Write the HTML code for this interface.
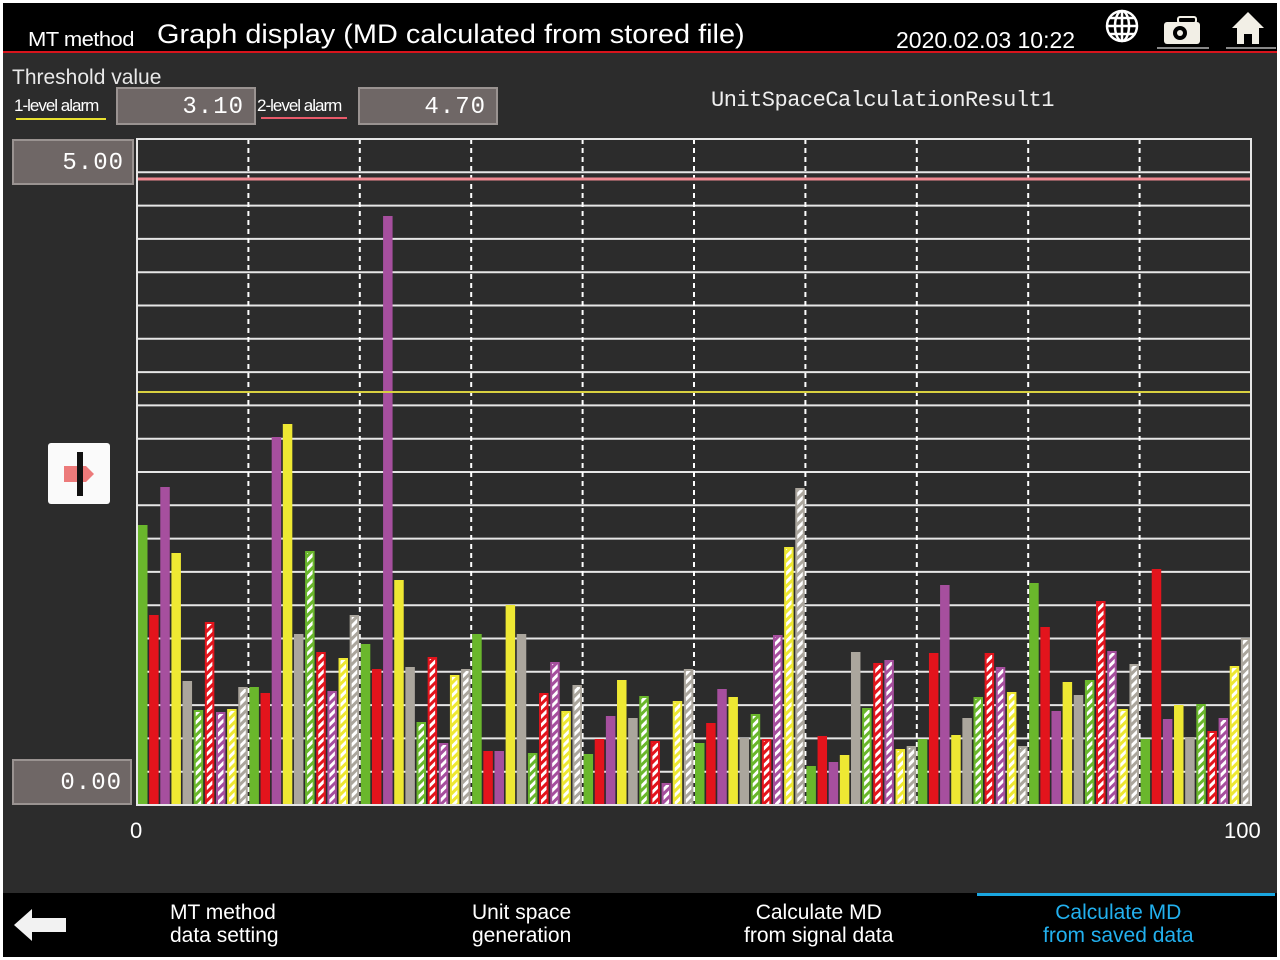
<!DOCTYPE html>
<html><head><meta charset="utf-8"><style>
body{margin:0;width:1280px;height:960px;background:#fff;overflow:hidden;font-family:"Liberation Sans",sans-serif}
#f{position:absolute;left:3px;top:3px;width:1274px;height:954px;background:#2c2c2c}
.a{position:absolute;color:#fff;white-space:nowrap}
.box{position:absolute;background:#6f6766;border:2px solid #9a9391;color:#fff;text-align:right;box-sizing:border-box;font-family:"Liberation Mono",monospace;letter-spacing:1px}
</style></head><body>
<div id="f"></div>
<div style="position:absolute;left:3px;top:3px;width:1274px;height:49px;background:#000"></div>
<div style="position:absolute;left:3px;top:51px;width:1274px;height:2px;background:#d8141c"></div>
<div class="a" style="left:28px;top:29px;font-size:20px;letter-spacing:-0.5px;transform:scaleX(1.1);transform-origin:left">MT method</div>
<div class="a" style="left:157px;top:19px;font-size:27px;transform:scaleX(1.07);transform-origin:left">Graph display (MD calculated from stored file)</div>
<div class="a" style="left:896px;top:27px;font-size:23px">2020.02.03 10:22</div>
<svg style="position:absolute;left:1104px;top:8px" width="36" height="36" viewBox="0 0 36 36" fill="none" stroke="#fff" stroke-width="2.5"><circle cx="18" cy="18" r="15"/><ellipse cx="18" cy="18" rx="7" ry="15"/><line x1="3" y1="18" x2="33" y2="18"/><line x1="5" y1="10" x2="31" y2="10"/><line x1="5" y1="26" x2="31" y2="26"/><line x1="18" y1="3" x2="18" y2="33"/></svg>
<svg style="position:absolute;left:1162px;top:14px" width="40" height="30"><rect x="2" y="8" width="36" height="22" rx="3" fill="#f2efe6"/><rect x="16" y="3" width="18" height="6" rx="2" fill="none" stroke="#f2efe6" stroke-width="2"/><circle cx="18" cy="19" r="7" fill="#000"/><circle cx="18" cy="19" r="3" fill="#f2efe6"/></svg>
<div style="position:absolute;left:1157px;top:47px;width:52px;height:2px;background:#888"></div>
<svg style="position:absolute;left:1230px;top:10px" width="36" height="36"><polygon points="18,2 2,18 7,18 7,34 29,34 29,18 34,18" fill="#f2efe6"/><rect x="14" y="24" width="8" height="10" fill="#000"/></svg>
<div style="position:absolute;left:1226px;top:47px;width:50px;height:2px;background:#888"></div>

<div class="a" style="left:12px;top:66px;font-size:21px;color:#e8e8e8">Threshold value</div>
<div class="a" style="left:14px;top:96px;font-size:17px;letter-spacing:-1px">1-level alarm</div>
<div style="position:absolute;left:16px;top:118px;width:90px;height:2px;background:#e8e030"></div>
<div class="box" style="left:116px;top:87px;width:140px;height:38px;font-size:24px;padding:5px 10px 0 0">3.10</div>
<div class="a" style="left:257px;top:96px;font-size:17px;letter-spacing:-1px">2-level alarm</div>
<div style="position:absolute;left:261px;top:117px;width:86px;height:2px;background:#e85a6a"></div>
<div class="box" style="left:358px;top:87px;width:140px;height:38px;font-size:24px;padding:5px 10px 0 0">4.70</div>
<div class="a" style="left:711px;top:88px;font-size:22px;font-family:'Liberation Mono',monospace;letter-spacing:-0.5px;color:#eee">UnitSpaceCalculationResult1</div>

<div class="box" style="left:12px;top:139px;width:122px;height:46px;font-size:24px;padding:9px 8px 0 0">5.00</div>
<div class="box" style="left:12px;top:759px;width:120px;height:46px;font-size:24px;padding:9px 8px 0 0">0.00</div>
<div style="position:absolute;left:48px;top:443px;width:62px;height:61px;background:#fafafa;border-radius:3px"></div>
<svg style="position:absolute;left:60px;top:450px" width="40" height="48"><polygon points="4,16 26,16 34,24 26,32 4,32" fill="#ec7a7a"/><rect x="17" y="2" width="6" height="44" fill="#111"/></svg>

<svg id="c" style="position:absolute;left:0;top:0" width="1280" height="960"></svg>
<div class="a" style="left:130px;top:818px;font-size:22px">0</div>
<div class="a" style="left:1224px;top:818px;font-size:22px">100</div>

<div style="position:absolute;left:3px;top:893px;width:1274px;height:64px;background:#000"></div>
<svg style="position:absolute;left:14px;top:907px" width="54" height="36"><polygon points="0,18 18,2 18,11 52,11 52,25 18,25 18,34" fill="#f2f2f2"/></svg>
<div class="a" style="left:170px;top:901px;font-size:21px;line-height:23px">MT method<br>data setting</div>
<div class="a" style="left:472px;top:901px;font-size:21px;line-height:23px;text-align:center">Unit space<br>generation</div>
<div class="a" style="left:744px;top:901px;font-size:21px;line-height:23px;text-align:center">Calculate MD<br>from signal data</div>
<div style="position:absolute;left:977px;top:893px;width:298px;height:3px;background:#1aa6e0"></div>
<div class="a" style="left:1043px;top:901px;font-size:21px;line-height:23px;text-align:center;color:#22b0ee">Calculate MD<br>from saved data</div>
<script>
var s=document.getElementById('c'),h='';
var cols=['#6ab72c','#e3141c','#a64f9e','#eee833','#aba69d'];
h+='<defs>';cols.forEach(function(c,i){h+='<pattern id="p'+i+'" width="6" height="6" patternUnits="userSpaceOnUse" patternTransform="rotate(45)"><rect width="6" height="6" fill="'+c+'"/><rect width="3" height="6" fill="#fff"/></pattern>';});h+='</defs>';
for(var k=1;k<20;k++){var y=139+k*33.3;h+='<line x1="137" x2="1251" y1="'+y+'" y2="'+y+'" stroke="#e6e6e6" stroke-width="2"/>';}
for(var k=1;k<10;k++){var x=137+k*111.4;h+='<line x1="'+x+'" x2="'+x+'" y1="139" y2="805" stroke="#fff" stroke-width="2" stroke-dasharray="5,4"/>';}
var t=[525,615,487,553,681,710,622,712,709,687,687,693,437,424,634,551,652,691,658,615,644,669,216,580,667,722,657,743,675,669,634,751,751,605,634,753,693,662,711,685,754,739,716,680,718,696,741,783,701,669,743,723,689,697,738,714,739,635,547,488,766,736,762,755,652,708,663,660,749,746,739,653,585,735,718,697,653,667,692,746,583,627,711,682,695,680,601,651,709,664,739,569,719,705,737,704,731,718,666,638];
for(var i=0;i<100;i++){var x=138+i*11.14,c=i%10,y=t[i];
if(c<5)h+='<rect x="'+x+'" y="'+y+'" width="9.5" height="'+(805-y)+'" fill="'+cols[c]+'"/>';
else h+='<rect x="'+(x+1)+'" y="'+(y+1)+'" width="7.5" height="'+(804-y)+'" fill="url(#p'+(c-5)+')" stroke="'+cols[c-5]+'" stroke-width="2"/>';}
h+='<line x1="137" x2="1251" y1="179" y2="179" stroke="#f08a92" stroke-width="3"/>';
h+='<line x1="137" x2="1251" y1="392" y2="392" stroke="#d8d040" stroke-width="2"/>';
h+='<rect x="137" y="139" width="1114" height="666" fill="none" stroke="#e6e6e6" stroke-width="2"/>';
s.innerHTML=h;
</script>
</body></html>
